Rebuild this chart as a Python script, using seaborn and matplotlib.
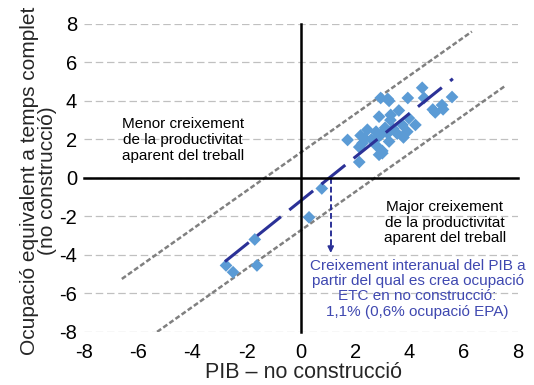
import matplotlib
matplotlib.use("Agg")
import matplotlib.pyplot as plt
import seaborn as sns
import pandas as pd
import numpy as np

# ---- data ----
gdp_growth = [-2.76, -2.50, -1.70, -1.62, 0.30, 0.77,
              1.72, 2.15, 2.20, 2.45, 2.27, 2.15, 2.35,
              2.88, 2.94, 3.20, 3.25, 3.31, 3.30, 3.61,
              3.94, 4.47, 4.54, 4.86, 4.95, 5.20, 5.24, 5.57,
              2.94, 2.83, 3.20, 3.25, 3.00, 2.88, 3.00,
              3.74, 3.92, 3.98, 4.22, 3.78, 2.77, 3.40, 3.55, 2.60, 3.10, 2.80]
employment_growth = [-4.55, -4.90, -3.20, -4.55, -2.05, -0.55,
                     1.97, 0.82, 2.20, 2.50, 1.80, 1.60, 2.05,
                     3.18, 4.15, 4.10, 4.00, 3.27, 3.00, 3.50,
                     4.15, 4.68, 4.15, 3.55, 3.40, 3.78, 3.56, 4.20,
                     2.23, 2.10, 2.31, 1.89, 1.28, 1.20, 1.40,
                     2.75, 2.40, 3.10, 2.75, 2.10, 2.40, 2.55, 2.30, 2.00, 2.60, 1.65]

fit_x = [-2.8, 5.6]
fit_y = [-4.35, 5.15]
upper_x = [-6.6, 6.3]
upper_y = [-5.25, 7.6]
lower_x = [-5.3, 7.5]
lower_y = [-8.0, 4.75]
threshold_x = 1.1
arrow_end_y = -3.9

ticks = [-8, -6, -4, -2, 0, 2, 4, 6, 8]
tick_labels = [str(t) for t in ticks]

xlabel = "PIB – no construcció"
ylabel = "Ocupació equivalent a temps complet\n(no construcció)"
text_menor = "Menor creixement\nde la productivitat\naparent del treball"
text_major = "Major creixement\nde la productivitat\naparent del treball"
text_blue = ("Creixement interanual del PIB a\npartir del qual es crea ocupació\n"
             "ETC en no construcció:\n1,1% (0,6% ocupació EPA)")

# ---- style ----
sns.set_theme(style="white")
plt.rcParams['font.family'] = ['Liberation Sans', 'DejaVu Sans']
plt.rcParams['axes.unicode_minus'] = False

point_color = "#5B9BD5"
fit_color = "#2B3197"
band_color = "#808080"
text_blue_color = "#3F48B0"

fig = plt.figure(figsize=(5.34, 3.85), dpi=100)
pos = [0.157, 0.138, 0.813, 0.800]
ax = fig.add_axes(pos)

df = pd.DataFrame({"x": gdp_growth, "y": employment_growth})
pts = pd.DataFrame({"x": fit_x, "y": fit_y})
up = pd.DataFrame({"x": upper_x, "y": upper_y})
lo = pd.DataFrame({"x": lower_x, "y": lower_y})

sns.lineplot(data=up, x="x", y="y", ax=ax, color=band_color, lw=1.8,
             sort=False, estimator=None, zorder=2).lines[-1].set_dashes((2, 1))
sns.lineplot(data=lo, x="x", y="y", ax=ax, color=band_color, lw=1.8,
             sort=False, estimator=None, zorder=2).lines[-1].set_dashes((2, 1))
sns.scatterplot(data=df, x="x", y="y", ax=ax, marker="D", s=42,
                color=point_color, edgecolor="none", zorder=3)
sns.lineplot(data=pts, x="x", y="y", ax=ax, color=fit_color, lw=2.2,
             sort=False, estimator=None, zorder=4).lines[-1].set_dashes((10, 3.5))

# dashed arrow at threshold
ax.plot([threshold_x, threshold_x], [0, arrow_end_y + 0.3], color=fit_color,
        lw=1.4, dashes=(3, 1.5), zorder=4)
ax.annotate("", xy=(threshold_x, arrow_end_y), xytext=(threshold_x, arrow_end_y + 0.45),
            arrowprops=dict(arrowstyle="-|>", color=fit_color, lw=1.2,
                            mutation_scale=9, shrinkA=0, shrinkB=0), zorder=4)

ax.set_xlim(-8, 8)
ax.set_ylim(-8, 8)
ax.set_xticks(ticks)
ax.set_xticklabels(tick_labels)
ax.set_yticks(ticks)
ax.set_yticklabels(tick_labels)
ax.tick_params(axis="both", length=0, labelsize=14.5, colors="black")
ax.tick_params(axis="x", pad=8)
ax.tick_params(axis="y", pad=5)
for s in ax.spines.values():
    s.set_visible(False)
ax.yaxis.grid(True, color="#c0c0c0", lw=0.9, linestyle=(0, (6, 3)))
ax.xaxis.grid(False)
ax.set_axisbelow(True)

ax.set_xlabel(xlabel, fontsize=15.5)
ax.set_ylabel(ylabel, fontsize=15, linespacing=0.95)
ax.xaxis.set_label_coords(0.505, -0.098)
ax.yaxis.set_label_coords(-0.062, 0.49)

ax.text(-4.35, 1.97, text_menor, ha="center", va="center", fontsize=11,
        linespacing=1.18, color="black", zorder=5)
ax.text(5.3, -2.32, text_major, ha="center", va="center", fontsize=11,
        linespacing=1.1, color="black", zorder=5)
ax.text(4.3, -5.75, text_blue, ha="center", va="center", fontsize=11,
        linespacing=1.12, color=text_blue_color, zorder=5)

# overlay axes: spines crossing at zero with tick marks
ax2 = fig.add_axes(pos, sharex=ax, sharey=ax)
ax2.patch.set_alpha(0)
for side in ("top", "right"):
    ax2.spines[side].set_visible(False)
ax2.spines["left"].set_position(("data", 0))
ax2.spines["bottom"].set_position(("data", 0))
for side in ("left", "bottom"):
    ax2.spines[side].set_linewidth(1.8)
    ax2.spines[side].set_color("black")
ax2.tick_params(axis="both", direction="out", length=5, width=1.3,
                labelleft=False, labelbottom=False, colors="black")
ax2.grid(False)
ax2.set_xlabel("")
ax2.set_ylabel("")

fig.savefig("out.png", dpi=100)
